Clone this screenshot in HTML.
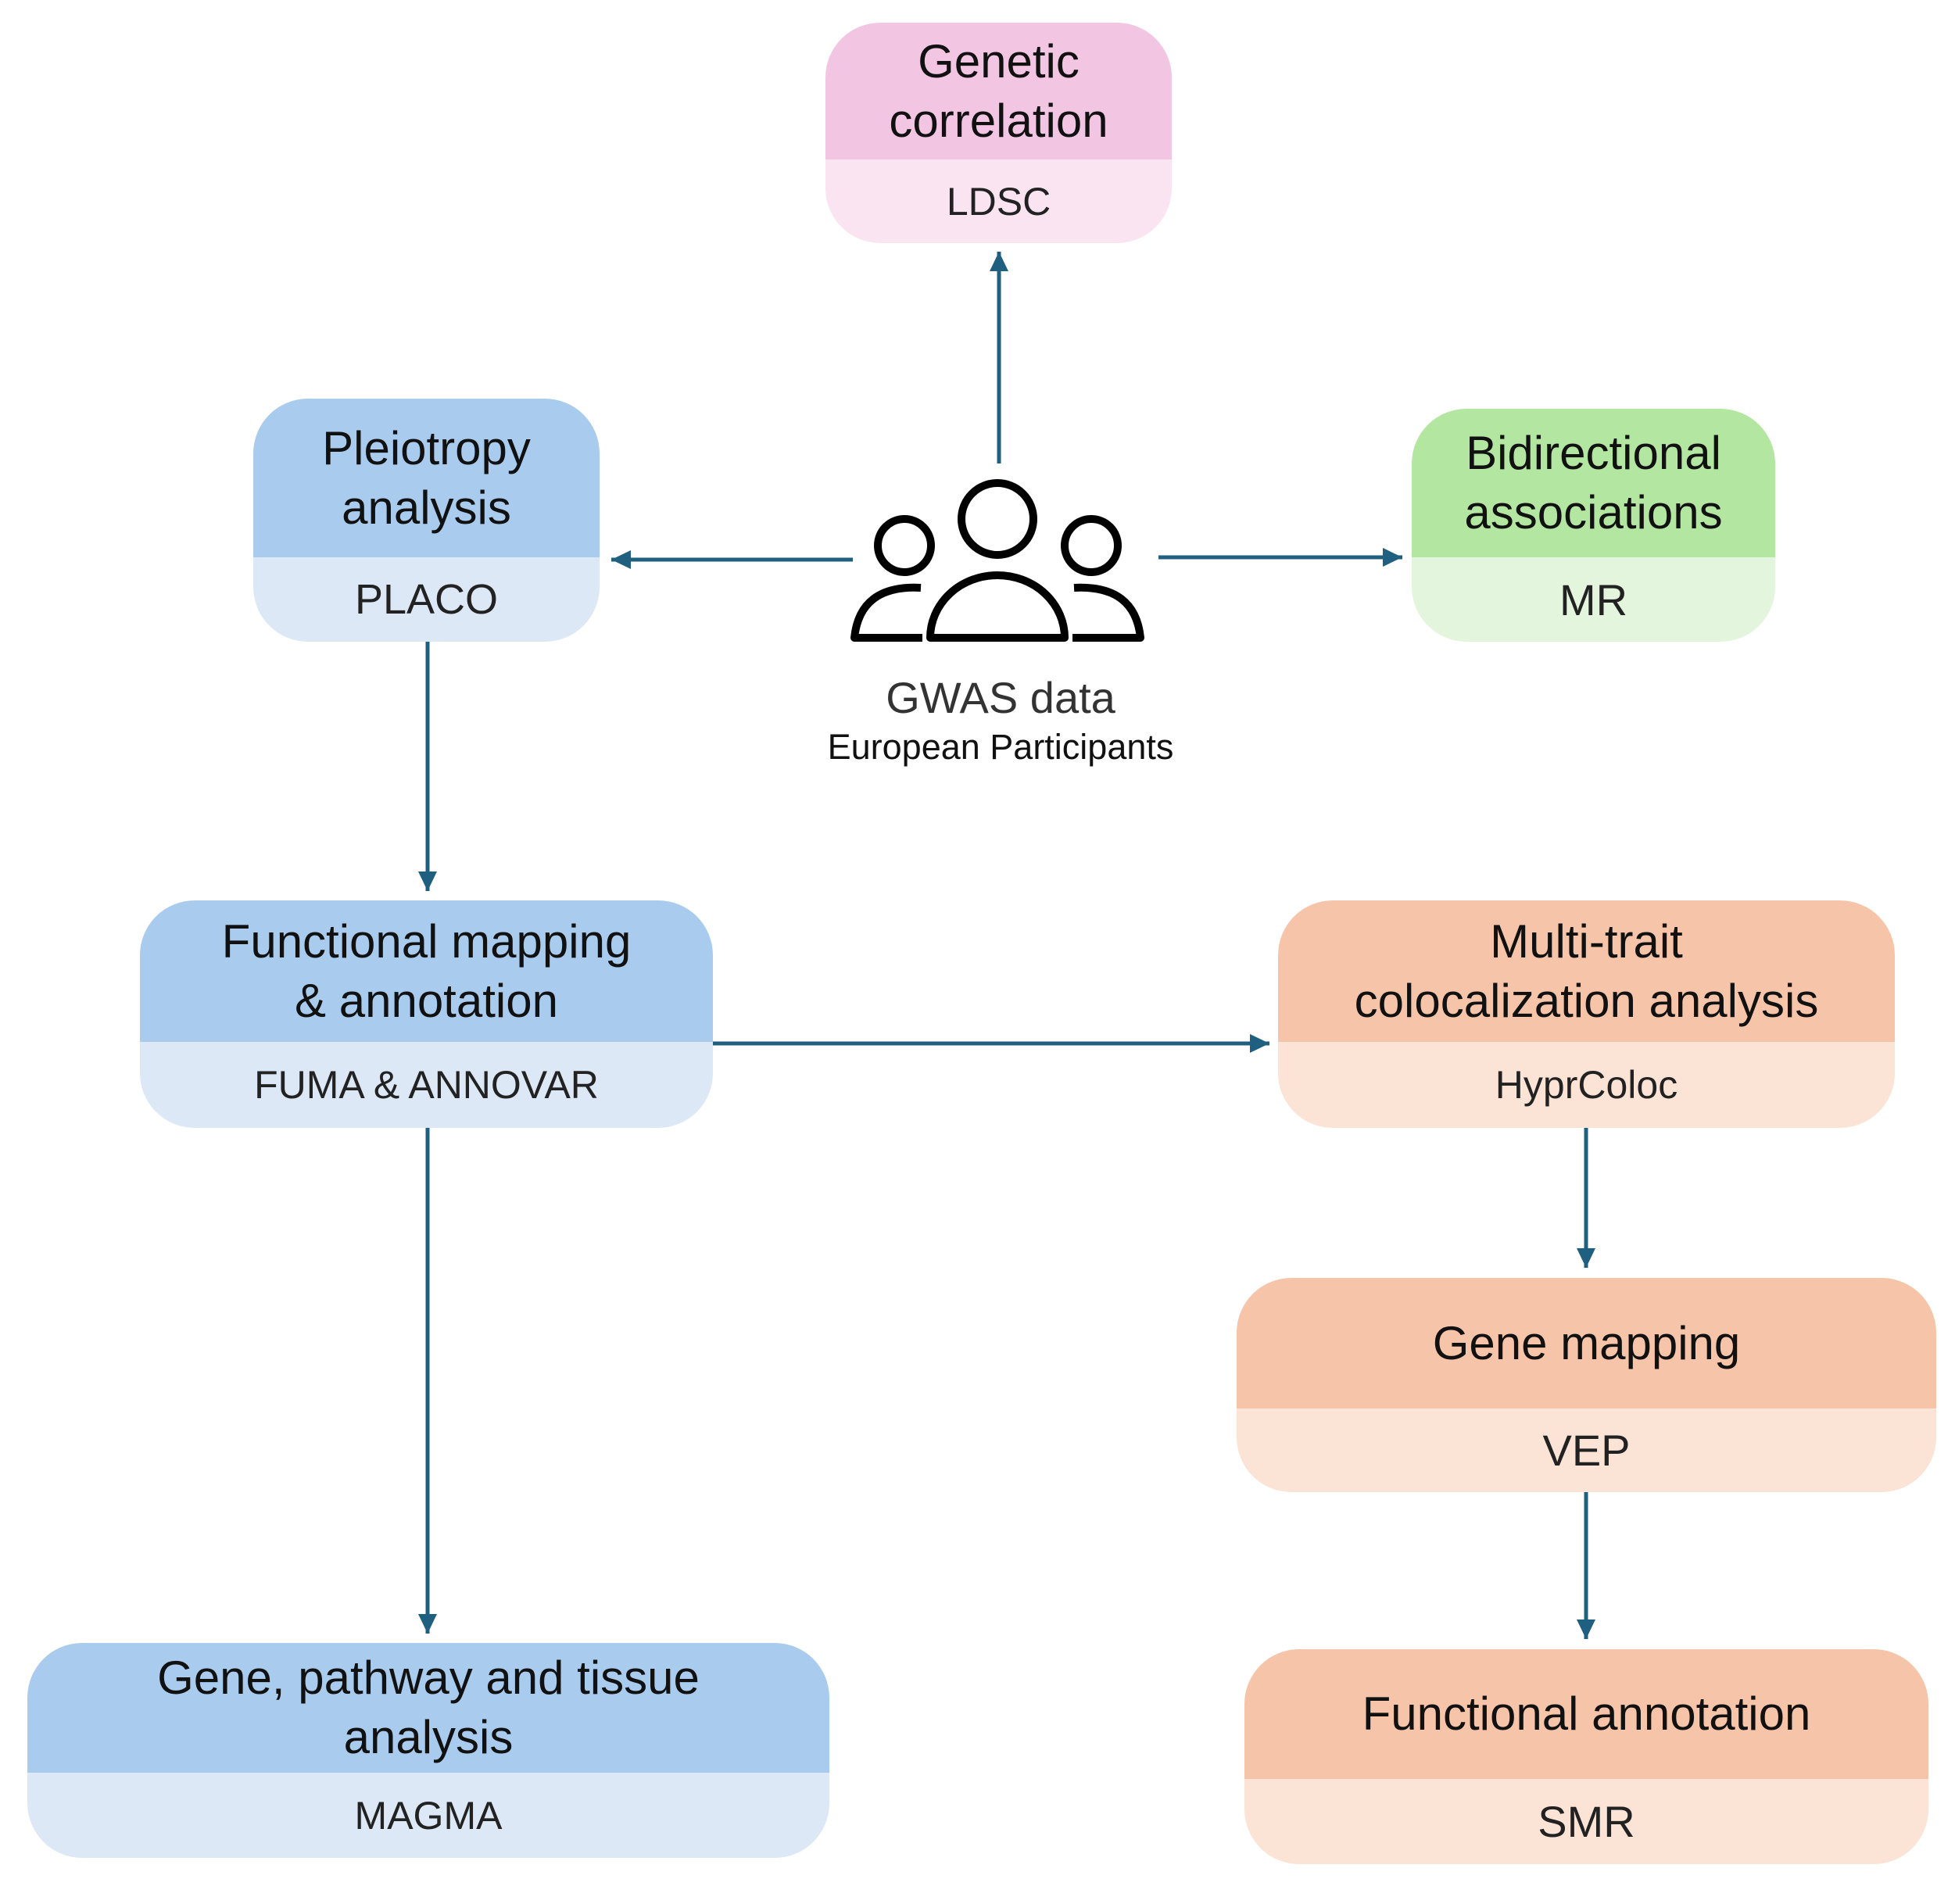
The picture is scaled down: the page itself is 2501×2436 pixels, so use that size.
<!DOCTYPE html>
<html><head><meta charset="utf-8"><style>
body{margin:0;background:#fff;}
#c{position:relative;width:2501px;height:2436px;overflow:hidden;font-family:"Liberation Sans",Arial,sans-serif;}
.b{position:absolute;border-radius:70px;overflow:hidden;display:flex;flex-direction:column;}
.h{display:flex;align-items:center;justify-content:center;text-align:center;font-size:60px;line-height:76px;color:#111;}
.s{flex:1;display:flex;align-items:center;justify-content:center;font-size:50px;color:#222;}
.t{position:absolute;text-align:center;color:#222;}
</style></head><body><div id="c">
<div class="b" style="left:1056px;top:29px;width:443px;height:282px;">
 <div class="h" style="height:175px;background:#f2c6e3;">Genetic<br>correlation</div><div class="s" style="background:#fbe4f1;">LDSC</div></div>
<div class="b" style="left:324px;top:510px;width:443px;height:311px;">
 <div class="h" style="height:203px;background:#a9cbee;">Pleiotropy<br>analysis</div><div class="s" style="background:#dce8f6;font-size:54px;">PLACO</div></div>
<div class="b" style="left:1806px;top:523px;width:465px;height:298px;">
 <div class="h" style="height:190px;background:#b3e6a1;">Bidirectional<br>associations</div><div class="s" style="background:#e3f5dc;font-size:56px;">MR</div></div>
<div class="b" style="left:179px;top:1152px;width:733px;height:291px;">
 <div class="h" style="height:181px;background:#a9cbee;">Functional mapping<br>&amp; annotation</div><div class="s" style="background:#dce8f6;">FUMA &amp; ANNOVAR</div></div>
<div class="b" style="left:1635px;top:1152px;width:789px;height:291px;">
 <div class="h" style="height:181px;background:#f6c4a8;">Multi-trait<br>colocalization analysis</div><div class="s" style="background:#fbe3d6;">HyprColoc</div></div>
<div class="b" style="left:1582px;top:1635px;width:895px;height:274px;">
 <div class="h" style="height:167px;background:#f6c4a8;">Gene mapping</div><div class="s" style="background:#fbe3d6;font-size:56px;">VEP</div></div>
<div class="b" style="left:1592px;top:2110px;width:875px;height:275px;">
 <div class="h" style="height:166px;background:#f6c4a8;">Functional annotation</div><div class="s" style="background:#fbe3d6;font-size:56px;">SMR</div></div>
<div class="b" style="left:35px;top:2102px;width:1026px;height:275px;">
 <div class="h" style="height:166px;background:#a9cbee;">Gene, pathway and tissue<br>analysis</div><div class="s" style="background:#dce8f6;">MAGMA</div></div>
<div class="t" style="left:1030px;top:860px;width:500px;font-size:56px;color:#333;">GWAS data</div>
<div class="t" style="left:980px;top:930px;width:600px;font-size:45px;color:#111;">European Participants</div>
<svg width="2501" height="2436" style="position:absolute;left:0;top:0">
<defs><marker id="a" markerWidth="6" markerHeight="6" refX="5" refY="3" orient="auto" markerUnits="strokeWidth"><path d="M0,0.6 L5,3 L0,5.4 z" fill="#1f5f7f"/></marker></defs>
<g stroke="#1f5f7f" stroke-width="5" fill="none" marker-end="url(#a)">
<line x1="1278" y1="593" x2="1278" y2="322"/>
<line x1="1091" y1="716" x2="782" y2="716"/>
<line x1="1482" y1="713" x2="1794" y2="713"/>
<line x1="547" y1="821" x2="547" y2="1140"/>
<line x1="912" y1="1335" x2="1624" y2="1335"/>
<line x1="547" y1="1443" x2="547" y2="2090"/>
<line x1="2029" y1="1443" x2="2029" y2="1622"/>
<line x1="2029" y1="1909" x2="2029" y2="2097"/>
</g>
<g stroke="#000" stroke-width="10" fill="none" stroke-linejoin="round">
<circle cx="1276" cy="664" r="46"/>
<circle cx="1157" cy="698" r="34"/>
<circle cx="1396" cy="698" r="34"/>
<path d="M1190,816 A86,80 0 0 1 1362,816 Z"/>
<path d="M1178,752 Q1100,748 1093,816 L1180,816"/>
<path d="M1374,752 Q1452,748 1459,816 L1372,816"/>
</g>
</svg>
</div></body></html>
